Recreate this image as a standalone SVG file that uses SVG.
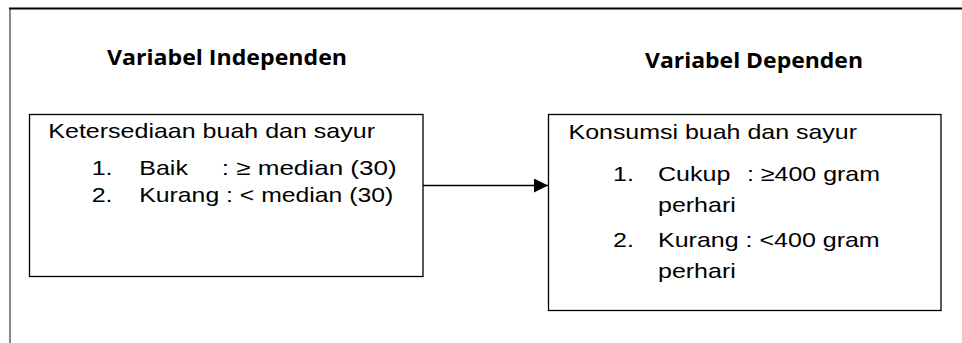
<svg xmlns="http://www.w3.org/2000/svg" width="962" height="343" viewBox="0 0 962 343">
<defs>
<style>
.bx{fill:#fff;stroke:#000;stroke-width:1.3}
.hd{font-family:"Open Sans","Noto Sans",sans-serif;font-weight:700;font-size:21px;fill:#000}
.tx{font-family:"Liberation Sans",Arial,sans-serif;font-size:21px;fill:#000}
</style>
<marker id="ah" markerWidth="14" markerHeight="14" refX="14" refY="7" orient="auto" markerUnits="userSpaceOnUse">
<path d="M0,0 L14,7 L0,14 Z" fill="#000"/>
</marker>
</defs>
<rect width="962" height="343" fill="#fff"/>
<g id="frame">
<line x1="10" y1="8" x2="10" y2="343" stroke="#888" stroke-width="2"/>
<line x1="9" y1="8.5" x2="962" y2="8.5" stroke="#000" stroke-width="1.8"/>
</g>
<g id="heading-independen">
<text class="hd" x="107" y="65" textLength="240" lengthAdjust="spacingAndGlyphs">Variabel Independen</text>
</g>
<g id="heading-dependen">
<text class="hd" x="645" y="67.5" textLength="218" lengthAdjust="spacingAndGlyphs">Variabel Dependen</text>
</g>
<g id="node-independen">
<rect class="bx" x="29.5" y="114.5" width="393.5" height="162"/>
<text class="tx" x="48.3" y="138.3" textLength="326.7" lengthAdjust="spacingAndGlyphs">Ketersediaan buah dan sayur</text>
<text class="tx" x="91.7" y="175" textLength="20.9" lengthAdjust="spacingAndGlyphs">1.</text>
<text class="tx" x="139.3" y="175" textLength="48.6" lengthAdjust="spacingAndGlyphs">Baik</text>
<text class="tx" x="221.7" y="175" textLength="175" lengthAdjust="spacingAndGlyphs">: ≥ median (30)</text>
<text class="tx" x="91.7" y="201.7" textLength="20.9" lengthAdjust="spacingAndGlyphs">2.</text>
<text class="tx" x="139.3" y="201.7" textLength="254" lengthAdjust="spacingAndGlyphs">Kurang : &lt; median (30)</text>
</g>
<g id="node-dependen">
<rect class="bx" x="548.5" y="114.5" width="392.5" height="196"/>
<text class="tx" x="568.5" y="139.3" textLength="288.5" lengthAdjust="spacingAndGlyphs">Konsumsi buah dan sayur</text>
<text class="tx" x="613" y="180.7" textLength="20.9" lengthAdjust="spacingAndGlyphs">1.</text>
<text class="tx" x="658" y="180.7" textLength="72.3" lengthAdjust="spacingAndGlyphs">Cukup</text>
<text class="tx" x="747" y="180.7" textLength="133" lengthAdjust="spacingAndGlyphs">: ≥400 gram</text>
<text class="tx" x="658" y="211.7" textLength="77.8" lengthAdjust="spacingAndGlyphs">perhari</text>
<text class="tx" x="613" y="246.7" textLength="20.9" lengthAdjust="spacingAndGlyphs">2.</text>
<text class="tx" x="658" y="246.7" textLength="221.7" lengthAdjust="spacingAndGlyphs">Kurang : &lt;400 gram</text>
<text class="tx" x="658" y="278" textLength="77.8" lengthAdjust="spacingAndGlyphs">perhari</text>
</g>
<g id="connectors">
<line x1="423" y1="185.5" x2="548" y2="185.5" stroke="#000" stroke-width="1.5" marker-end="url(#ah)"/>
</g>
</svg>
